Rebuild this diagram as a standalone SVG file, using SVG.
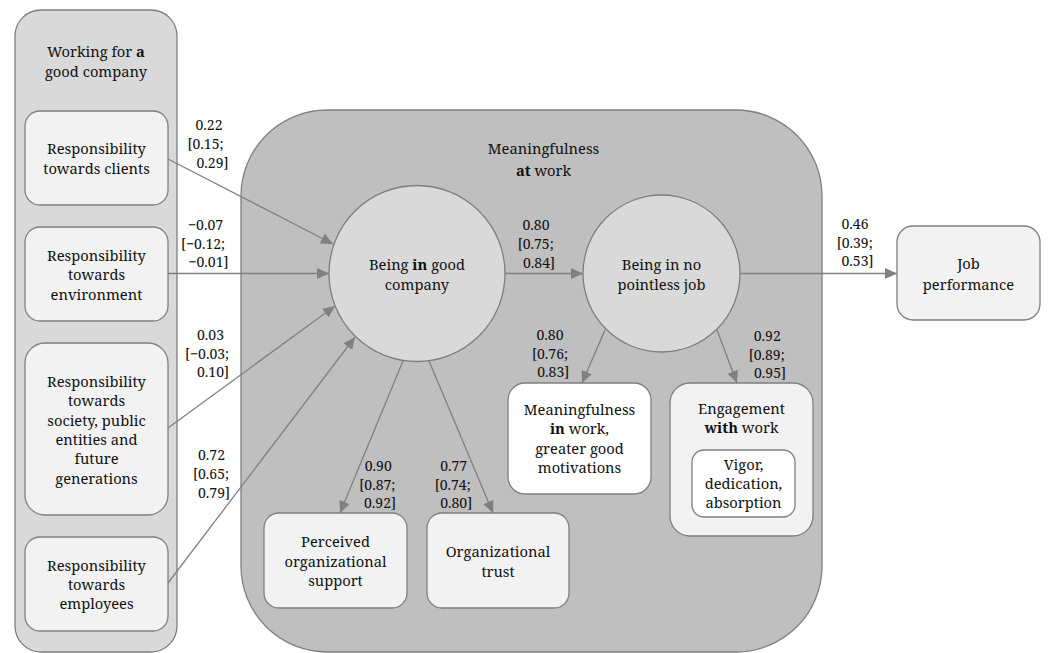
<svg xmlns="http://www.w3.org/2000/svg" width="1048" height="653" viewBox="0 0 1048 653">
<defs>
<style>
.panelL{fill:#d9d9d9;stroke:#7f7f7f;stroke-width:1.3}
.panelM{fill:#bfbfbf;stroke:#7f7f7f;stroke-width:1.3}
.circ{fill:#d9d9d9;stroke:#7f7f7f;stroke-width:1.3}
.box{fill:#f2f2f2;stroke:#7f7f7f;stroke-width:1.3}
.wbox{fill:#ffffff;stroke:#7f7f7f;stroke-width:1.3}
.t{font-family:'Noto Serif','Liberation Serif',serif;font-size:14.7px;fill:#111;text-anchor:middle}
.l{font-family:'Noto Serif','Liberation Serif',serif;font-size:14px;fill:#111;text-anchor:middle}
.b{font-weight:bold}
.c{fill:none;stroke:#808080;stroke-width:1.3;marker-end:url(#ah)}
</style>
<marker id="ah" markerUnits="userSpaceOnUse" markerWidth="13" markerHeight="12" refX="12" refY="5.5" orient="auto">
<path d="M0,0 L12,5.5 L0,11 z" fill="#808080"/>
</marker>
</defs>
<rect width="1048" height="653" fill="#ffffff"/>

<g id="panel-working">
<rect class="panelL" x="15" y="10" width="162" height="642" rx="26"/>
<text class="t"><tspan x="96" y="57">Working for <tspan class="b">a</tspan></tspan><tspan x="96" y="77">good company</tspan></text>
</g>

<g id="panel-meaningfulness">
<rect class="panelM" x="241" y="110" width="581" height="542" rx="86"/>
<text class="t"><tspan x="543.5" y="154">Meaningfulness</tspan><tspan x="543.5" y="176"><tspan class="b">at</tspan> work</tspan></text>
</g>

<g id="node-clients">
<rect class="box" x="25" y="111" width="143" height="94" rx="15"/>
<text class="t"><tspan x="96.5" y="154">Responsibility</tspan><tspan x="96.5" y="174">towards clients</tspan></text>
</g>

<g id="node-environment">
<rect class="box" x="25" y="227" width="143" height="94" rx="15"/>
<text class="t"><tspan x="96.5" y="261">Responsibility</tspan><tspan x="96.5" y="280">towards</tspan><tspan x="96.5" y="299.5">environment</tspan></text>
</g>

<g id="node-society">
<rect class="box" x="25" y="343" width="143" height="172" rx="20"/>
<text class="t"><tspan x="96.5" y="387">Responsibility</tspan><tspan x="96.5" y="406">towards</tspan><tspan x="96.5" y="425.5">society, public</tspan><tspan x="96.5" y="445">entities and</tspan><tspan x="96.5" y="464">future</tspan><tspan x="96.5" y="483.5">generations</tspan></text>
</g>

<g id="node-employees">
<rect class="box" x="25" y="537" width="143" height="94" rx="15"/>
<text class="t"><tspan x="96.5" y="571">Responsibility</tspan><tspan x="96.5" y="590">towards</tspan><tspan x="96.5" y="609">employees</tspan></text>
</g>

<g id="node-good-company">
<circle class="circ" cx="417" cy="273.5" r="88"/>
<text class="t"><tspan x="417" y="270">Being <tspan class="b">in</tspan> good</tspan><tspan x="417" y="290">company</tspan></text>
</g>

<g id="node-no-pointless">
<circle class="circ" cx="661.5" cy="273.5" r="78.5"/>
<text class="t"><tspan x="661.5" y="270">Being in no</tspan><tspan x="661.5" y="290">pointless job</tspan></text>
</g>

<g id="node-perceived">
<rect class="box" x="264" y="513" width="143" height="95" rx="15"/>
<text class="t"><tspan x="335.5" y="546.5">Perceived</tspan><tspan x="335.5" y="566.5">organizational</tspan><tspan x="335.5" y="585.5">support</tspan></text>
</g>

<g id="node-trust">
<rect class="box" x="427" y="513" width="142" height="95" rx="15"/>
<text class="t"><tspan x="498" y="557">Organizational</tspan><tspan x="498" y="576.5">trust</tspan></text>
</g>

<g id="node-meaningfulness-in">
<rect class="wbox" x="508" y="383" width="143" height="111" rx="17"/>
<text class="t"><tspan x="579.5" y="415">Meaningfulness</tspan><tspan x="579.5" y="434"><tspan class="b">in</tspan> work,</tspan><tspan x="579.5" y="453.5">greater good</tspan><tspan x="579.5" y="473">motivations</tspan></text>
</g>

<g id="node-engagement">
<rect class="box" x="670" y="383" width="143" height="153" rx="20"/>
<text class="t"><tspan x="741.5" y="414">Engagement</tspan><tspan x="741.5" y="433"><tspan class="b">with</tspan> work</tspan></text>
<rect class="wbox" x="692" y="450" width="103" height="67" rx="12"/>
<text class="t"><tspan x="743.5" y="470">Vigor,</tspan><tspan x="743.5" y="489">dedication,</tspan><tspan x="743.5" y="508">absorption</tspan></text>
</g>

<g id="node-job">
<rect class="box" x="897" y="226" width="143" height="94" rx="16"/>
<text class="t"><tspan x="968.5" y="269">Job</tspan><tspan x="968.5" y="289.5">performance</tspan></text>
</g>

<g id="connectors">
<line class="c" x1="168" y1="159" x2="333" y2="244"/>
<line class="c" x1="168" y1="273.5" x2="329" y2="273.5"/>
<line class="c" x1="168" y1="428" x2="335" y2="306"/>
<line class="c" x1="168" y1="583" x2="355" y2="337"/>
<line class="c" x1="505" y1="273.5" x2="583" y2="273.5"/>
<line class="c" x1="740" y1="273.5" x2="897" y2="273.5"/>
<line class="c" x1="605" y1="330" x2="582" y2="383"/>
<line class="c" x1="717" y1="330" x2="737" y2="383"/>
<line class="c" x1="403" y1="361" x2="340" y2="513"/>
<line class="c" x1="429" y1="361" x2="493" y2="513"/>
</g>

<g id="labels">
<text class="l"><tspan x="209" y="130">0.22</tspan><tspan x="205.5" y="149">[0.15;</tspan><tspan x="212.5" y="168">0.29]</tspan></text>
<text class="l"><tspan x="205.5" y="230">−0.07</tspan><tspan x="203" y="248.5">[−0.12;</tspan><tspan x="208.5" y="267">−0.01]</tspan></text>
<text class="l"><tspan x="210.5" y="340">0.03</tspan><tspan x="207" y="358.5">[−0.03;</tspan><tspan x="213" y="377">0.10]</tspan></text>
<text class="l"><tspan x="211.5" y="460">0.72</tspan><tspan x="211" y="479">[0.65;</tspan><tspan x="214" y="498">0.79]</tspan></text>
<text class="l"><tspan x="536" y="230">0.80</tspan><tspan x="535.7" y="249">[0.75;</tspan><tspan x="539" y="268">0.84]</tspan></text>
<text class="l"><tspan x="855" y="229">0.46</tspan><tspan x="854.7" y="248">[0.39;</tspan><tspan x="857.5" y="266">0.53]</tspan></text>
<text class="l"><tspan x="550" y="340">0.80</tspan><tspan x="550" y="358.5">[0.76;</tspan><tspan x="553.3" y="377">0.83]</tspan></text>
<text class="l"><tspan x="767.3" y="341">0.92</tspan><tspan x="766.7" y="359.5">[0.89;</tspan><tspan x="770" y="377.5">0.95]</tspan></text>
<text class="l"><tspan x="378.3" y="471">0.90</tspan><tspan x="377.3" y="489.5">[0.87;</tspan><tspan x="380" y="508">0.92]</tspan></text>
<text class="l"><tspan x="453.7" y="471">0.77</tspan><tspan x="452.7" y="489.5">[0.74;</tspan><tspan x="456.2" y="508">0.80]</tspan></text>
</g>
</svg>
